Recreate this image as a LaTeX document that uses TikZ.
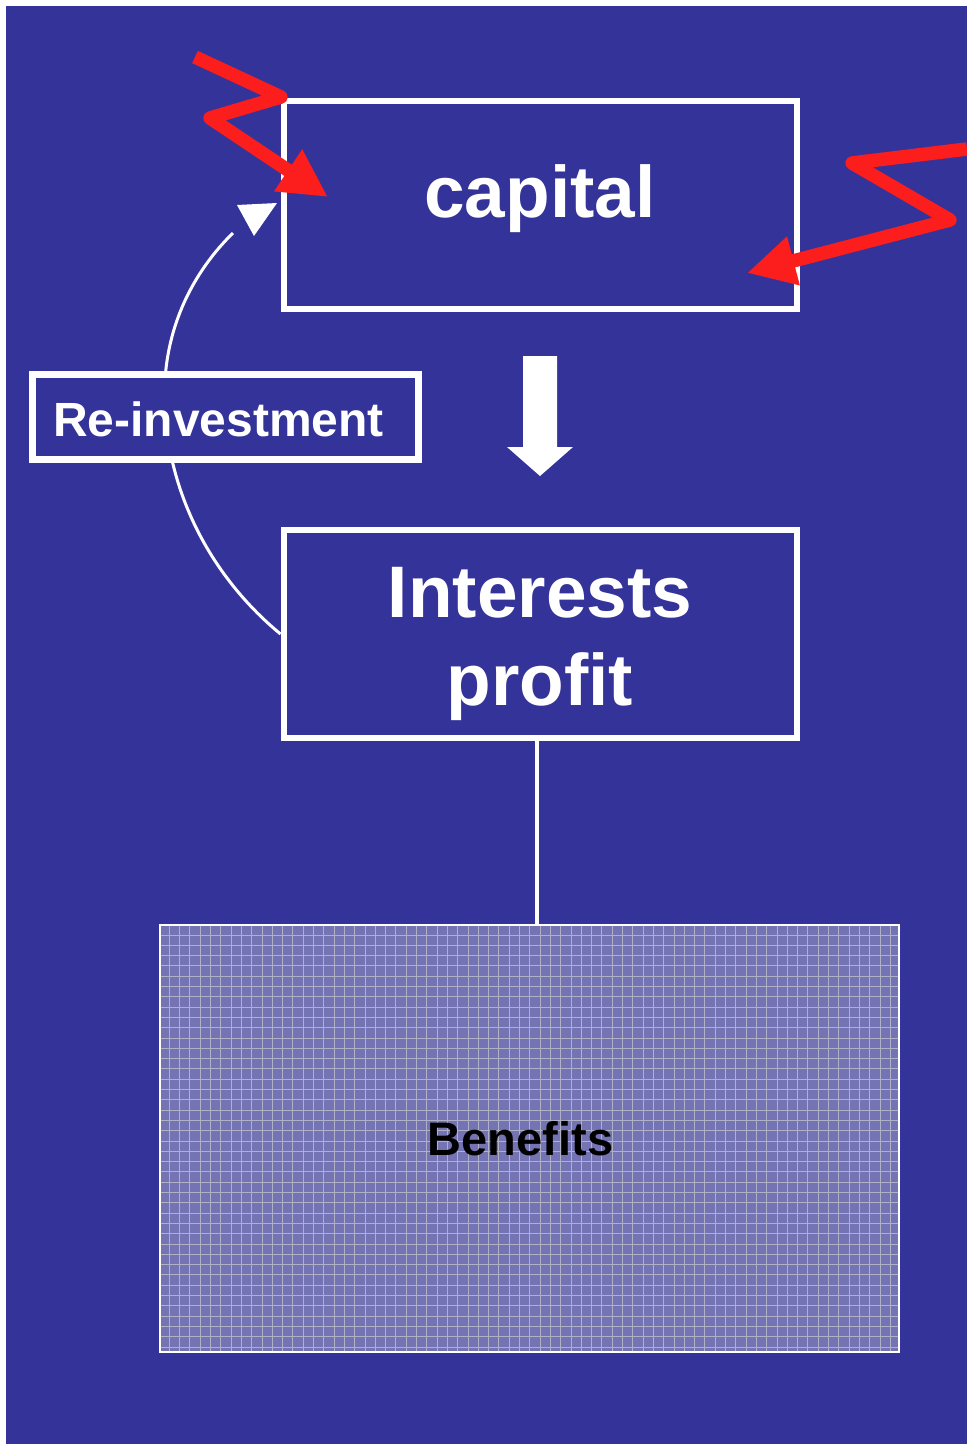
\documentclass[tikz,border=0pt]{standalone}
\usepackage{fontspec}
\setmainfont{Liberation Sans}
\usetikzlibrary{arrows.meta}
\definecolor{bgblue}{RGB}{51,51,153}
\definecolor{zred}{RGB}{252,30,28}
\definecolor{patfill}{RGB}{116,116,180}
\definecolor{patline}{RGB}{176,176,198}
\begin{document}
\begin{tikzpicture}[x=1pt,y=-1pt,
  box/.style={draw=white, line width=6pt, fill=bgblue, minimum width=513.5pt, minimum height=208pt, inner sep=0pt},
  bigtxt/.style={text=white, font=\fontsize{73}{88}\selectfont\bfseries, inner sep=0pt, anchor=base},
  zig/.style={draw=zred, line width=13.5pt, line join=round, -{Triangle[length=48pt,width=47pt]}},
  wline/.style={draw=white, line width=3pt},
  gridline/.style={draw=patline, line width=1pt},
]
\useasboundingbox (0,0) rectangle (967,1444);
\fill[white] (0,0) rectangle (967,1444);
\fill[bgblue] (6,6) rectangle (967,1444);

% boxes
\node[box] (capital) at (540.25,205) {};
\node[bigtxt] (captxt) at (540,217) {capital};
\node[box] (interests) at (540.25,634) {};
\node[bigtxt] (inttxt1) at (540,617) {Interests};
\node[bigtxt] (inttxt2) at (540,705) {profit};

% re-investment loop
\draw[wline] (interests.west) .. controls (215,580) and (170,500) .. (165,410)
   .. controls (160,330) and (195,270) .. (233,233) coordinate (rend);
\fill[white] (277,203) -- (237,205) -- (254,236) -- cycle;
\node[draw=white, line width=7pt, fill=bgblue, minimum width=386.5pt, minimum height=85pt, inner sep=0pt] (reinv) at (225.25,416.5) {};
\node[text=white, font=\fontsize{48}{58}\selectfont\bfseries, anchor=base west, inner sep=0pt] (reinvtxt) at (53,436) {Re-investment};

% big down arrow
\fill[white] (523,356) -- (557,356) -- (557,447) -- (573,447) -- (540,476) -- (507,447) -- (523,447) -- cycle;

% benefits box
\node[fill=patfill, minimum width=738.5pt, minimum height=427pt, inner sep=0pt] (benefits) at (529.25,1138.5) {};
\begin{scope}
  \clip (benefits.south west) rectangle (benefits.north east);
  \foreach \k in {0,...,70} {\draw[gridline] ({169.3+10.3*\k},915) -- ({169.3+10.3*\k},1360);}
  \foreach \k in {0,...,40} {\draw[gridline] (150,{935+10.3*\k}) -- (910,{935+10.3*\k});}
\end{scope}
\draw[white, line width=2pt] (benefits.south west) rectangle (benefits.north east);
\node[font=\fontsize{47}{56}\selectfont\bfseries, text=black, anchor=base, inner sep=0pt] (bentxt) at (520.5,1155) {Benefits};

% connector
\draw[draw=white, line width=4.5pt] ([xshift=-3.5pt]interests.south) -- ([xshift=-3.5pt]interests.south |- benefits.north);

% red zigzag arrows
\draw[zig] (195,57) -- (281,97) -- (210,118) -- (328,197) coordinate (z1end);
\draw[zig] (967,149) -- (852,163) -- (950,220) -- (747,273) coordinate (z2end);
\end{tikzpicture}
\end{document}
